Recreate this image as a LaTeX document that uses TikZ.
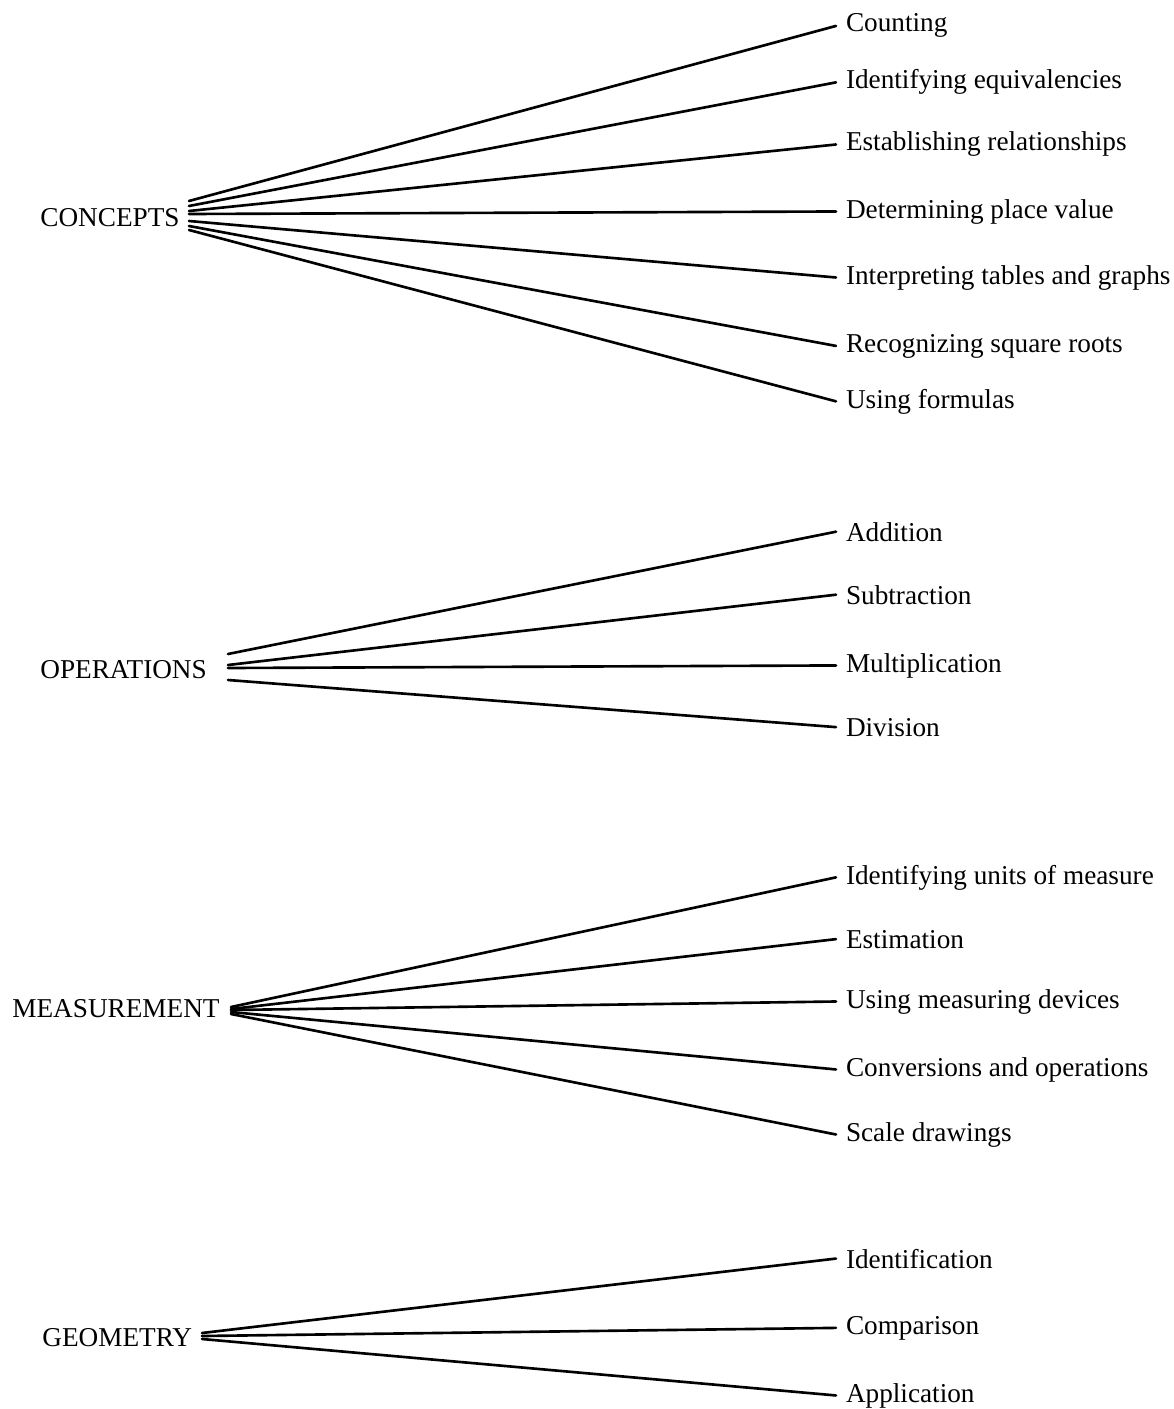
\documentclass[tikz,border=0pt]{standalone}
\usepackage{fontspec}
\setmainfont{Liberation Serif}
\usepackage{tikz}

\tikzset{
	topic/.style	= {anchor=base west, inner sep=0pt, font=\fontsize{15.5}{18}\selectfont},
	skill/.style	= {anchor=base west, inner sep=0pt, outer xsep=0.2cm, font=\fontsize{15.5}{18}\selectfont},
	branch/.style	= {line width=1.5pt, line cap=round}
}

\begin{document}
\begin{tikzpicture}[x=0.02cm, y=-0.02cm]
			\useasboundingbox (0,0) rectangle (1173,1409);
			
			\node[topic] (concepts) at (40,227) {CONCEPTS};
			\coordinate (c-hub) at (189,215);
			\node[skill] (counting)		at (836,32)		{Counting};
			\node[skill] (equiv)		at (836,89)		{Identifying equivalencies};
			\node[skill] (relations)	at (836,151)	{Establishing relationships};
			\node[skill] (placevalue)	at (836,218)	{Determining place value};
			\node[skill] (tables)		at (836,284)	{Interpreting tables and graphs};
			\node[skill] (roots)		at (836,352)	{Recognizing square roots};
			\node[skill] (formulas)		at (836,408)	{Using formulas};
			\foreach \s/\dy in {counting/14, equiv/9, relations/4, placevalue/1, tables/-6, roots/-11, formulas/-15}
				\draw[branch] ([yshift=\dy*0.02cm]c-hub) -- (\s.west);
			
			\node[topic] (operations) at (40,678) {OPERATIONS};
			\coordinate (o-hub) at (228,667);
			\node[skill] (addition)			at (836,541)	{Addition};
			\node[skill] (subtraction)		at (836,604)	{Subtraction};
			\node[skill] (multiplication)	at (836,672)	{Multiplication};
			\node[skill] (division)			at (836,736)	{Division};
			\foreach \s/\dy in {addition/13, subtraction/2, multiplication/-1, division/-13}
				\draw[branch] ([yshift=\dy*0.02cm]o-hub) -- (\s.west);
			
			\node[topic] (measurement) at (12,1017) {MEASUREMENT};
			\coordinate (m-hub) at (231,1010);
			\node[skill] (units)		at (836,884)	{Identifying units of measure};
			\node[skill] (estimation)	at (836,948)	{Estimation};
			\node[skill] (devices)		at (836,1008)	{Using measuring devices};
			\node[skill] (conversions)	at (836,1076)	{Conversions and operations};
			\node[skill] (scale)		at (836,1141)	{Scale drawings};
			\foreach \s/\dy in {units/3, estimation/1, devices/0, conversions/-2, scale/-4}
				\draw[branch] ([yshift=\dy*0.02cm]m-hub) -- (\s.west);
			
			\node[topic] (geometry) at (42,1346) {GEOMETRY};
			\coordinate (g-hub) at (202,1336);
			\node[skill] (identification)	at (836,1268)	{Identification};
			\node[skill] (comparison)		at (836,1334)	{Comparison};
			\node[skill] (application)		at (836,1402)	{Application};
			\foreach \s/\dy in {identification/3, comparison/0, application/-3}
				\draw[branch] ([yshift=\dy*0.02cm]g-hub) -- (\s.west);
\end{tikzpicture}
\end{document}
